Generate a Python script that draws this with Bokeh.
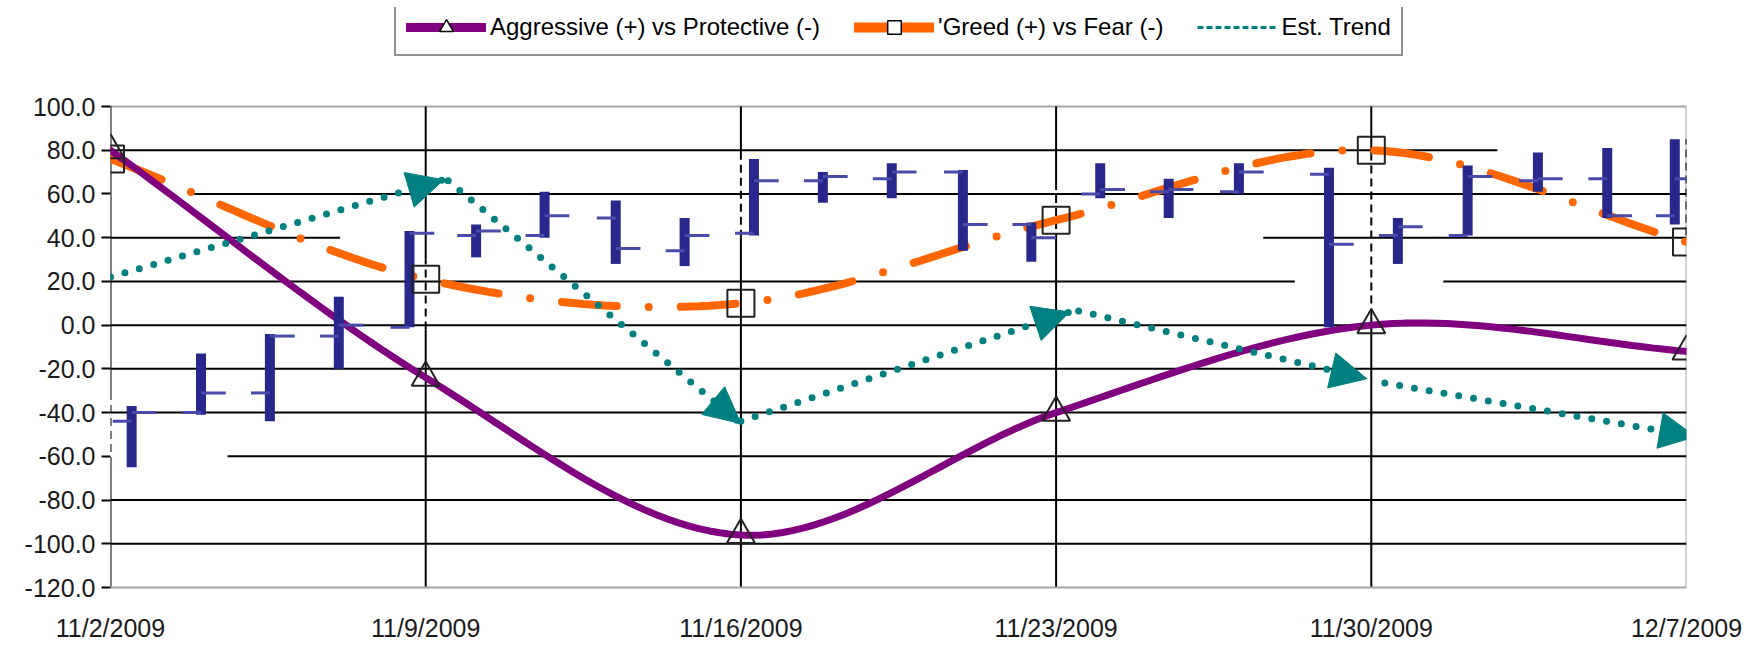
import numpy as np
from bokeh.plotting import figure
from bokeh.models import (Range1d, ColumnDataSource, Legend, LegendItem, Arrow, NormalHead,
                          FixedTicker, PrintfTickFormatter)
from bokeh.embed import file_html
from bokeh.resources import INLINE

# ---------------- data ----------------
week_days = [0, 7, 14, 21, 28, 35]          # days after 11/2/2009
week_labels = ["11/2/2009", "11/9/2009", "11/16/2009", "11/23/2009", "11/30/2009", "12/7/2009"]

aggressive = [80, -24, -96, -40, 0, -12]     # Aggressive (+) vs Protective (-)
greed = [76, 21, 10, 48, 80, 38]             # 'Greed (+) vs Fear (-)

# Est. Trend arrows (start -> tip)
trend_x0 = [0, 7.5, 14.0, 21.5, 28.3]
trend_y0 = [22, 66, -44, 6.5, -26.5]
trend_x1 = [7.4, 14.0, 21.3, 27.9, 35.2]
trend_y1 = [66.5, -45, 6, -24.5, -51]

# overlaid high-low bars
bar_x = [0.47, 2.01, 3.54, 5.07, 6.64, 8.12, 9.64, 11.22, 12.75, 14.29, 15.82, 17.35,
         18.93, 20.45, 21.98, 23.50, 25.06, 27.06, 28.59, 30.14, 31.70, 33.24, 34.74]
bar_open = [-44, -40, -31, -5, -1, 41, 41, 49, 34, 42, 66, 67, 70, 46, 60, 61, 61, 69, 41, 41, 66, 67, 50]
bar_close = [-40, -31, -5, 0, 42, 43, 50, 35, 41, 66, 68, 70, 46, 40, 62, 62, 70, 37, 45, 68, 67, 50, 67]
bar_high = [-37, -13, -4, 13, 43, 46, 61, 57, 49, 76, 70, 74, 71, 47, 74, 67, 74, 72, 49, 73, 79, 81, 85]
bar_low = [-65, -41, -44, -20, -1, 31, 40, 28, 27, 41, 56, 58, 34, 29, 58, 49, 60, -1, 28, 41, 61, 49, 46]

y_ticks = list(range(-120, 101, 20))

# ---------------- styling ----------------
PURPLE = "#800080"
ORANGE = "#FF6600"
TEAL = "#008080"
NAVY = "#28288C"
BORDER = "#a6a6a6"
FONT = "Liberation Sans"

Y_MIN, Y_MAX = -120, 100
PLOT_H = 481            # pixel height of the -120..100 region
FRAME_H = 580           # frame extends upward to hold the legend
y_top = Y_MIN + (Y_MAX - Y_MIN) * FRAME_H / PLOT_H


def smooth(xs, ys, n=30):
    pts = np.column_stack([xs, ys]).astype(float)
    ext = np.vstack([2 * pts[0] - pts[1], pts, 2 * pts[-1] - pts[-2]])
    out = []
    for i in range(1, len(ext) - 2):
        p0, p1, p2, p3 = ext[i - 1], ext[i], ext[i + 1], ext[i + 2]
        t = np.linspace(0, 1, n, endpoint=(i == len(ext) - 3))[:, None]
        c = 0.5 * (2 * p1 + (-p0 + p2) * t + (2 * p0 - 5 * p1 + 4 * p2 - p3) * t ** 2
                   + (-p0 + 3 * p1 - 3 * p2 + p3) * t ** 3)
        out.append(c)
    c = np.vstack(out)
    return c[:, 0], c[:, 1]


p = figure(width=1750, height=639, frame_width=1576, frame_height=FRAME_H,
           output_backend="svg", toolbar_location=None,
           x_range=Range1d(0, 35), y_range=Range1d(Y_MIN, y_top),
           min_border_left=110, min_border_right=64, min_border_top=7, min_border_bottom=52)
p.grid.visible = False
p.outline_line_color = None
p.background_fill_color = "white"

# ---- frame border (top / right, gray) ----
p.segment(x0=[0, 35], x1=[35, 35], y0=[Y_MAX, Y_MIN], y1=[Y_MAX, Y_MAX],
          line_color=BORDER, line_width=2)

# ---- grid lines (drawn manually to reproduce gaps / dashed parts) ----
x_lo, x_hi = 0, 35
h_gaps = {60: [(0, 1.8)], 40: [(5.1, 25.6)], 20: [(26.3, 29.6)], 80: [(30.8, 35)], -60: [(0, 2.6)]}
hx0, hx1, hy = [], [], []
for y in y_ticks[1:-1]:
    start = x_lo
    for g0, g1 in h_gaps.get(y, []):
        if g0 > start:
            hx0.append(start); hx1.append(g0); hy.append(y)
        start = g1
    if start < x_hi:
        hx0.append(start); hx1.append(x_hi); hy.append(y)
p.segment(x0=hx0, x1=hx1, y0=hy, y1=hy, line_color="black", line_width=2)

v_dash = {0: (-64, -34), 7: (-2, 30), 14: (40, 76), 21: (38, 64), 28: (4, 78), 35: (41, 85)}
vs_x, vs_y0, vs_y1 = [], [], []
vd_x, vd_y0, vd_y1 = [], [], []
for d in week_days:
    lo, hi = v_dash[d]
    if d != 35:
        vs_x += [d, d]; vs_y0 += [Y_MIN, hi]; vs_y1 += [lo, Y_MAX]
    vd_x.append(d); vd_y0.append(lo); vd_y1.append(hi)
p.segment(x0=vs_x, x1=vs_x, y0=vs_y0, y1=vs_y1, line_color="black", line_width=2)
p.segment(x0=vd_x, x1=vd_x, y0=vd_y0, y1=vd_y1, line_color="black", line_width=2, line_dash="8 5")

# ---- series lines ----
gx, gy = smooth(week_days, greed)
p.line(gx, gy, line_color=ORANGE, line_width=8, line_dash="55 32 0 32", line_cap="round")

ax, ay = smooth(week_days, aggressive)
p.line(ax, ay, line_color=PURPLE, line_width=7, line_cap="round")

trend_src = ColumnDataSource(dict(x0=trend_x0, y0=trend_y0, x1=trend_x1, y1=trend_y1))
p.segment(x0="x0", y0="y0", x1="x1", y1="y1", source=trend_src, line_color=TEAL,
          line_width=7, line_dash="0 15", line_cap="round")
p.add_layout(Arrow(x_start="x0", y_start="y0", x_end="x1", y_end="y1", source=trend_src,
                   line_alpha=0, end=NormalHead(size=36, fill_color=TEAL, line_color=TEAL)))

# ---- high-low bars ----
bar_src = ColumnDataSource(dict(x=bar_x, o=bar_open, c=bar_close, h=bar_high, l=bar_low))
p.segment(x0="x", x1="x", y0="l", y1="h", source=bar_src, line_color=NAVY, line_width=10)
left_x = [x - 0.42 for x in bar_x]
right_x = [x + 0.55 for x in bar_x]
p.segment(x0=left_x, x1=bar_x, y0=bar_open, y1=bar_open, line_color="#4a4aaa", line_width=3)
p.segment(x0=bar_x, x1=right_x, y0=bar_close, y1=bar_close, line_color="#4a4aaa", line_width=3)

# ---- markers ----
p.scatter(week_days, aggressive, marker="triangle", size=28, line_color="#222222",
          line_width=2, fill_alpha=0)
p.scatter(week_days, greed, marker="square", size=27, line_color="#222222",
          line_width=2, fill_alpha=0)

# ---- axes ----
p.yaxis.ticker = FixedTicker(ticks=y_ticks)
p.yaxis.formatter = PrintfTickFormatter(format="%.1f")
p.yaxis.axis_line_color = None
p.yaxis.major_tick_out = 9
p.yaxis.major_tick_in = 0
p.yaxis.major_tick_line_color = "black"
p.yaxis.major_tick_line_width = 2
p.yaxis.minor_tick_line_color = None
p.yaxis.major_label_standoff = 6

p.xaxis.ticker = FixedTicker(ticks=week_days)
p.xaxis.major_label_overrides = {d: lab for d, lab in zip(week_days, week_labels)}
p.xaxis.axis_line_color = BORDER
p.xaxis.axis_line_width = 2
p.xaxis.major_tick_line_color = None
p.xaxis.minor_tick_line_color = None
p.xaxis.major_label_standoff = 20

for ax_ in (p.xaxis[0], p.yaxis[0]):
    ax_.major_label_text_font = FONT
    ax_.major_label_text_color = "#1a1a1a"
    ax_.major_label_text_font_size = "25px"

# ---- legend (renderers whose single point is NaN, so only the key glyph shows) ----
nan_src = ColumnDataSource(dict(x=np.array([np.nan]), y=np.array([np.nan])))
l1 = p.line("x", "y", source=nan_src, line_color=PURPLE, line_width=9, line_cap="round")
m1 = p.scatter("x", "y", source=nan_src, marker="triangle", line_color="black", fill_color="white",
               line_width=1.5)
l2 = p.line("x", "y", source=nan_src, line_color=ORANGE, line_width=10, line_cap="round")
m2 = p.scatter("x", "y", source=nan_src, marker="square", line_color="black", fill_color="white",
               line_width=1.5)
l3 = p.line("x", "y", source=nan_src, line_color=TEAL, line_width=3, line_dash="6 3")

legend = Legend(items=[
    LegendItem(label="Aggressive (+) vs Protective (-)", renderers=[l1, m1]),
    LegendItem(label="'Greed (+) vs Fear (-)", renderers=[l2, m2]),
    LegendItem(label="Est. Trend", renderers=[l3]),
], orientation="horizontal", location=(284, 531), margin=0, padding=10,
    spacing=34, glyph_width=80, glyph_height=34, label_standoff=4,
    label_text_font=FONT, label_text_font_size="24px", label_text_color="black",
    border_line_color="#222222", border_line_width=2, background_fill_alpha=1)
p.add_layout(legend, "center")

open("out.html", "w").write(file_html(p, INLINE))
